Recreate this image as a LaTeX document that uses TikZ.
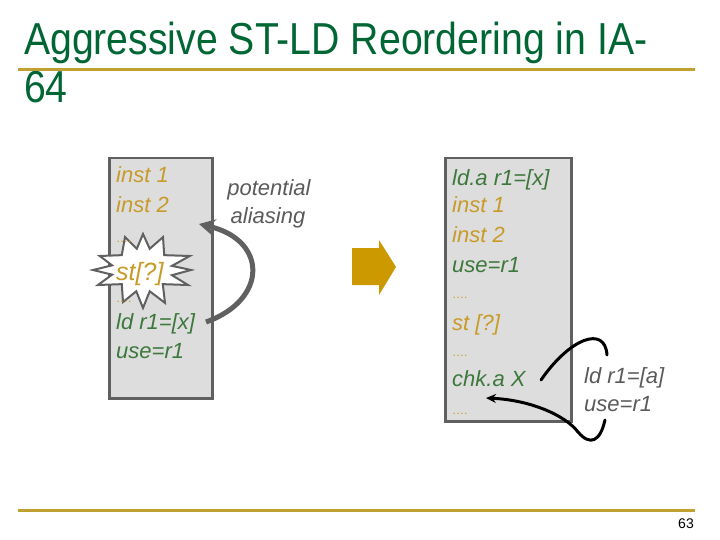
\documentclass[tikz,border=0pt]{standalone}
\usepackage{fontspec}
\setmainfont{Liberation Sans}
\usetikzlibrary{arrows.meta}
\definecolor{titlegreen}{RGB}{0,102,51}
\definecolor{rulegold}{RGB}{192,160,48}
\definecolor{instgold}{RGB}{200,155,40}
\definecolor{codegreen}{RGB}{60,120,60}
\definecolor{notegray}{RGB}{90,90,90}
\definecolor{boxfill}{RGB}{221,221,221}
\definecolor{boxline}{RGB}{96,96,96}
\definecolor{arrowgold}{RGB}{204,153,0}
\tikzset{
  codebox/.style={draw=boxline, line width=2.5pt, fill=boxfill},
  code/.style={anchor=base west, inner sep=0pt, font=\fontsize{22}{26}\selectfont\itshape},
  goldtxt/.style={code, text=instgold},
  greentxt/.style={code, text=codegreen},
  dots/.style={anchor=base west, inner sep=0pt, text=instgold, font=\fontsize{12}{14}\selectfont},
  note/.style={inner sep=0pt, text=notegray, font=\fontsize{22}{26}\selectfont\itshape},
  rulebar/.style={draw=rulegold, line width=3pt},
  titletxt/.style={anchor=base west, inner sep=0pt, text=titlegreen, font=\fontsize{40}{44}\selectfont},
  burst/.style={draw=boxline, line width=2pt, fill=white, line join=miter},
}
\begin{document}
\begin{tikzpicture}[x=1pt,y=-1pt]
\useasboundingbox (0,0) rectangle (720,540);
% title
\node[titletxt] (t1) at (24,55) {\scalebox{0.98}[1.12]{Aggressive ST-LD Reordering in IA-}};
\node[titletxt] (t2) at (24,103) {\scalebox{0.98}[1.12]{64}};
\coordinate (r1a) at (18,70); \coordinate (r1b) at (695,70);
\draw[rulebar] (r1a) -- (r1b);
\coordinate (r2a) at (18,510); \coordinate (r2b) at (695,510);
\draw[rulebar] (r2a) -- (r2b);
\node[anchor=base east, inner sep=0pt, font=\fontsize{14}{16}\selectfont] (pg) at (694,528) {63};
% left box
\node[codebox, minimum width=103pt, minimum height=240pt, anchor=north west] (lbox) at (108,157) {};
\node[goldtxt] (li1) at (116,183) {inst 1};
\node[goldtxt] (li2) at (116,212) {inst 2};
% starburst
\begin{scope}[shift={(143,270)}]
\draw[burst] (0:48 and 14) -- (15:30 and 20) -- (30:52 and 30) -- (45:28 and 20)
  -- (60:44 and 38) -- (75:26 and 22) -- (90:30 and 38) -- (105:26 and 22)
  -- (120:40 and 37) -- (135:30 and 20) -- (150:52 and 30) -- (165:32 and 18)
  -- (180:50 and 10) -- (195:32 and 18) -- (210:50 and 28) -- (225:30 and 21)
  -- (240:36 and 38) -- (255:24 and 22) -- (270:8 and 36) -- (285:26 and 22)
  -- (300:40 and 38) -- (315:30 and 21) -- (330:54 and 28) -- (345:30 and 16) -- cycle;
\end{scope}
\node[dots] (ld1) at (116,242) {….};
\node[dots] (ld2) at (116,302) {….};
\node[anchor=base west, inner sep=0pt, text=instgold, font=\fontsize{25}{28}\selectfont\itshape] (lst) at (116,280) {st[?]};
\node[greentxt] (lld) at (116,329) {ld r1=[x]};
\node[greentxt] (luse) at (116,358) {use=r1};
% note
\node[note, anchor=base] (pot) at (269,196) {potential};
\node[note, anchor=base] (ali) at (268,224) {aliasing};
% curved arrow
\coordinate (lldend) at (206,322);
\coordinate (arrtip) at (199,224);
\draw[boxline, line width=5pt, -{Stealth[length=16pt,width=17pt]}] (lldend) .. controls (268,300) and (268,240) .. (arrtip);
% gold block arrow
\fill[arrowgold] (352,248) -- (379,248) -- (379,240) -- (396,267) -- (379,295) -- (379,285) -- (352,285) -- cycle;
% right box
\node[codebox, minimum width=126pt, minimum height=263pt, anchor=north west] (rbox) at (444,157) {};
\node[greentxt] (rld) at (452,186) {ld.a r1=[x]};
\node[goldtxt] (ri1) at (452,213) {inst 1};
\node[goldtxt] (ri2) at (452,242) {inst 2};
\node[greentxt] (ruse) at (452,272) {use=r1};
\node[dots] (rd1) at (452,298) {….};
\node[goldtxt] (rst) at (452,330) {st [?]};
\node[dots] (rd2) at (452,356) {….};
\node[greentxt] (rchk) at (452,386) {chk.a X};
\node[dots] (rd3) at (452,414) {….};
% recovery code
\node[note, anchor=base west] (rc1) at (584,383) {ld r1=[a]};
\node[note, anchor=base west] (rc2) at (584,411) {use=r1};
\coordinate (chkend) at (541,380);
\coordinate (topend) at (607,355);
\coordinate (botstart) at (605,420);
\coordinate (botmid) at (578,432);
\coordinate (rettip) at (486,398);
\draw[black, line width=3pt, line cap=round] (chkend) .. controls (570,338) and (605,325) .. (topend);
\draw[black, line width=3pt, line cap=round, -{Stealth[length=10pt,width=9pt]}] (botstart) .. controls (600,442) and (590,446) .. (botmid) .. controls (565,415) and (530,400) .. (rettip);
\end{tikzpicture}
\end{document}
